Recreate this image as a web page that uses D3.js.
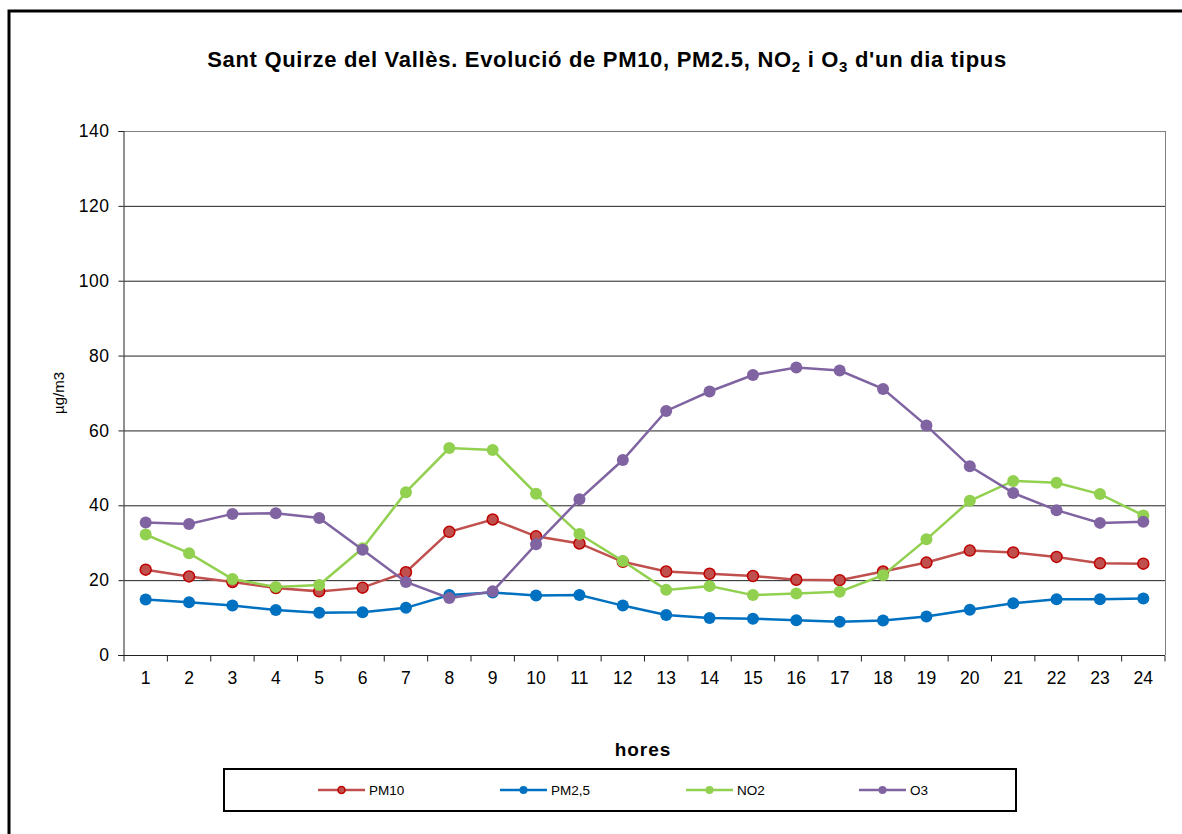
<!DOCTYPE html>
<html>
<head>
<meta charset="utf-8">
<script src="https://cdn.jsdelivr.net/npm/d3@7"></script>
<style>
  body { margin: 0; background: #fff; }
  svg { display: block; font-family: "Liberation Sans", Arial, sans-serif; }
</style>
</head>
<body>
<svg id="chart" width="1182" height="834"></svg>
<script>
// Hours on the x axis
const hours = d3.range(1, 25).map(String);
const yTicks = [0, 20, 40, 60, 80, 100, 120, 140];

// Series values (µg/m3)
const pm10 = [22.8, 21.0, 19.5, 17.9, 17.0, 18.0, 22.1, 32.9, 36.2, 31.7, 29.8, 24.9,
  22.3, 21.7, 21.1, 20.1, 20.0, 22.3, 24.7, 27.9, 27.4, 26.2, 24.5, 24.4];
const pm25 = [14.8, 14.1, 13.2, 12.0, 11.3, 11.4, 12.6, 16.0, 16.7, 15.9, 16.0, 13.2,
  10.7, 9.9, 9.7, 9.3, 8.9, 9.2, 10.3, 12.1, 13.8, 14.9, 14.9, 15.1];
const no2 = [32.2, 27.2, 20.3, 18.2, 18.7, 28.5, 43.5, 55.3, 54.8, 43.1, 32.3, 25.1,
  17.4, 18.4, 16.0, 16.4, 16.9, 21.3, 30.9, 41.2, 46.5, 46.0, 43.0, 37.3];
const o3 = [35.4, 35.0, 37.7, 37.9, 36.6, 28.1, 19.5, 15.2, 17.0, 29.6, 41.6, 52.1,
  65.2, 70.4, 74.8, 76.8, 76.0, 71.1, 61.3, 50.4, 43.3, 38.7, 35.3, 35.6];

const seriesNames = ["PM10", "PM2,5", "NO2", "O3"];
const seriesValues = [pm10, pm25, no2, o3];

const colors = ["#C0504D", "#0070C0", "#92D050", "#8064A2"];
const markerStroke = ["#C00000", "#0070C0", "#92D050", "#8064A2"];

const svg = d3.select("#chart");

// outer frame (chart area border, cut off at right/bottom)
svg.append("rect")
  .attr("x", 9).attr("y", 11)
  .attr("width", 1200).attr("height", 900)
  .attr("fill", "none")
  .attr("stroke", "#000")
  .attr("stroke-width", 3);

const margin = { top: 131, left: 124, right: 1165, bottom: 655 };

const x = d3.scaleBand().domain(hours).range([margin.left, margin.right]);
const y = d3.scaleLinear().domain([0, 140]).range([margin.bottom, margin.top]);

// Gridlines
svg.append("g")
  .selectAll("line")
  .data(yTicks.filter(d => d > 0))
  .join("line")
  .attr("x1", margin.left).attr("x2", margin.right)
  .attr("y1", d => y(d) + 0.5).attr("y2", d => y(d) + 0.5)
  .attr("stroke", d => d === 140 ? "#808080" : "#222")
  .attr("stroke-width", 1);

// right border of plot area
svg.append("line")
  .attr("x1", margin.right + 0.5).attr("x2", margin.right + 0.5)
  .attr("y1", margin.top).attr("y2", margin.bottom)
  .attr("stroke", "#808080");

// Y axis
const yAxis = svg.append("g")
  .attr("transform", "translate(" + (margin.left - 0.5) + ",0)")
  .call(d3.axisLeft(y).tickValues(yTicks).tickSize(5).tickPadding(9));
yAxis.select(".domain").attr("stroke", "#222");
yAxis.selectAll(".tick line").attr("stroke", "#222");
yAxis.selectAll("text")
  .style("font-size", "17.5px")
  .style("letter-spacing", "0.5px")
  .attr("fill", "#000")
  .attr("font-family", "Liberation Sans, Arial, sans-serif");

// X axis with ticks between categories
const xAxis = svg.append("g")
  .attr("transform", "translate(0," + (margin.bottom + 0.5) + ")");
xAxis.append("line")
  .attr("x1", margin.left - 6).attr("x2", margin.right)
  .attr("stroke", "#222");
xAxis.selectAll(".sep")
  .data(hours.concat(["end"]))
  .join("line")
  .attr("class", "sep")
  .attr("x1", (d, i) => margin.left + i * x.bandwidth())
  .attr("x2", (d, i) => margin.left + i * x.bandwidth())
  .attr("y1", 0).attr("y2", 6)
  .attr("stroke", "#222");
xAxis.selectAll(".lbl")
  .data(hours)
  .join("text")
  .attr("class", "lbl")
  .attr("x", d => x(d) + x.bandwidth() / 2)
  .attr("y", 28)
  .attr("text-anchor", "middle")
  .style("font-size", "17.5px")
  .text(d => d);

// Lines and markers
const line = d3.line()
  .x((d, i) => x(hours[i]) + x.bandwidth() / 2)
  .y(d => y(d));

seriesValues.forEach((vals, s) => {
  const g = svg.append("g");
  g.append("path")
    .datum(vals)
    .attr("fill", "none")
    .attr("stroke", colors[s])
    .attr("stroke-width", 2.5)
    .attr("d", line);
  g.selectAll("circle")
    .data(vals)
    .join("circle")
    .attr("cx", (d, i) => x(hours[i]) + x.bandwidth() / 2)
    .attr("cy", d => y(d))
    .attr("r", s === 0 ? 5.5 : 6)
    .attr("fill", colors[s])
    .attr("stroke", markerStroke[s])
    .attr("stroke-width", s === 0 ? 1.5 : 0);
});

// Title
const title = svg.append("text")
  .attr("x", 607).attr("y", 67)
  .attr("text-anchor", "middle")
  .style("font-size", "22px")
  .style("letter-spacing", "0.7px")
  .style("font-weight", "bold");
title.append("tspan").text("Sant Quirze del Vallès. Evolució de PM10, PM2.5, NO");
title.append("tspan").attr("baseline-shift", "-30%").style("font-size", "15px").text("2");
title.append("tspan").text(" i O");
title.append("tspan").attr("baseline-shift", "-30%").style("font-size", "15px").text("3");
title.append("tspan").text("  d'un dia tipus");

// Axis titles
svg.append("text")
  .attr("transform", "translate(64,393) rotate(-90)")
  .attr("text-anchor", "middle")
  .style("font-size", "15px")
  .text("µg/m3");

svg.append("text")
  .attr("x", 643).attr("y", 756)
  .attr("text-anchor", "middle")
  .style("font-size", "19px")
  .style("letter-spacing", "1px")
  .style("font-weight", "bold")
  .text("hores");

// Legend
svg.append("rect")
  .attr("x", 224).attr("y", 769)
  .attr("width", 792).attr("height", 42)
  .attr("fill", "none")
  .attr("stroke", "#000")
  .attr("stroke-width", 2);

const legendX = [318, 500, 686, 859];
seriesNames.forEach((name, s) => {
  const g = svg.append("g").attr("transform", "translate(" + legendX[s] + ",790)");
  g.append("line")
    .attr("x1", 0).attr("x2", 47)
    .attr("stroke", colors[s])
    .attr("stroke-width", 2.5);
  g.append("circle")
    .attr("cx", 23.5).attr("cy", 0)
    .attr("r", s === 0 ? 3.5 : 4)
    .attr("fill", colors[s])
    .attr("stroke", markerStroke[s])
    .attr("stroke-width", s === 0 ? 1.5 : 0);
  g.append("text")
    .attr("x", 51).attr("y", 5)
    .style("font-size", "13.5px")
    .text(name);
});
</script>
</body>
</html>
